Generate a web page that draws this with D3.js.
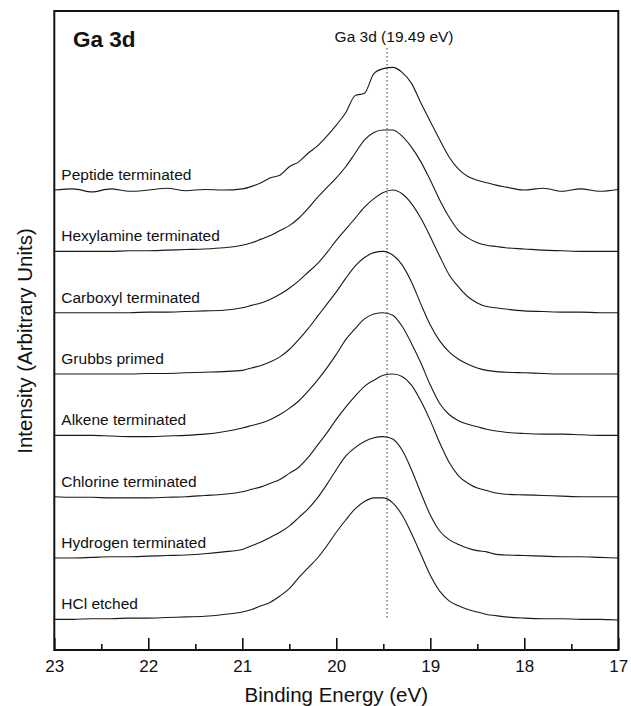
<!DOCTYPE html>
<html>
<head>
<meta charset="utf-8">
<script src="https://cdn.jsdelivr.net/npm/d3@7"></script>
<style>
body { margin: 0; background: #fff; }
svg text { font-family: "Liberation Sans", Arial, Helvetica, sans-serif; fill: #111; }
</style>
</head>
<body>
<div id="chart"></div>
<script>
var energies = [23.0, 22.8, 22.6, 22.4, 22.2, 22.0, 21.8, 21.6, 21.4, 21.2,
	21.0, 20.9, 20.8, 20.7, 20.6, 20.5, 20.4, 20.3, 20.2, 20.1, 20.0, 19.9, 19.8, 19.7, 19.6,
	19.5, 19.4, 19.3, 19.2, 19.1, 19.0, 18.9, 18.8, 18.7, 18.6, 18.5, 18.4, 18.3, 18.2,
	18.0, 17.8, 17.6, 17.4, 17.2, 17.0];

var hclEtched = [0.00, 0.00, 0.005, 0.005, 0.01, 0.01, 0.015, 0.02, 0.025, 0.04,
	0.06, 0.08, 0.11, 0.14, 0.19, 0.25, 0.34, 0.42, 0.50, 0.60, 0.71, 0.81, 0.90, 0.96, 0.99,
	0.99, 0.95, 0.85, 0.70, 0.53, 0.36, 0.23, 0.15, 0.11, 0.08, 0.06, 0.04, 0.03, 0.02,
	0.01, 0.005, 0.005, 0.0, 0.0, -0.005];
var hydrogen = [0.00, 0.00, 0.005, 0.01, 0.01, 0.015, 0.02, 0.025, 0.035, 0.05,
	0.07, 0.10, 0.13, 0.17, 0.21, 0.26, 0.33, 0.40, 0.49, 0.60, 0.72, 0.83, 0.90, 0.95, 0.98,
	0.99, 0.97, 0.88, 0.72, 0.53, 0.35, 0.22, 0.15, 0.11, 0.08, 0.06, 0.05, 0.03, 0.025,
	0.02, 0.015, 0.01, 0.01, 0.005, 0.0];
var chlorine = [0.00, -0.005, -0.005, -0.01, -0.01, -0.01, -0.005, 0.0, 0.01, 0.02,
	0.04, 0.06, 0.08, 0.11, 0.14, 0.19, 0.24, 0.32, 0.42, 0.52, 0.63, 0.73, 0.82, 0.90, 0.95,
	0.99, 1.00, 0.98, 0.91, 0.78, 0.62, 0.44, 0.28, 0.17, 0.11, 0.07, 0.05, 0.03, 0.02,
	0.015, 0.01, 0.005, 0.0, 0.0, 0.0];
var alkene = [0.00, 0.00, 0.00, -0.005, -0.01, -0.01, -0.005, 0.0, 0.01, 0.03,
	0.06, 0.08, 0.10, 0.13, 0.17, 0.22, 0.28, 0.36, 0.45, 0.55, 0.66, 0.78, 0.87, 0.95, 0.99,
	1.00, 0.98, 0.89, 0.75, 0.59, 0.41, 0.26, 0.17, 0.12, 0.09, 0.07, 0.05, 0.035, 0.025,
	0.015, 0.01, 0.01, 0.005, 0.0, 0.0];
var grubbs = [0.00, 0.00, 0.00, 0.00, 0.00, 0.005, 0.005, 0.01, 0.015, 0.02,
	0.03, 0.05, 0.07, 0.10, 0.14, 0.20, 0.28, 0.37, 0.47, 0.57, 0.67, 0.78, 0.88, 0.95, 0.99,
	1.00, 0.97, 0.89, 0.75, 0.57, 0.40, 0.27, 0.18, 0.12, 0.08, 0.05, 0.03, 0.02, 0.015,
	0.01, 0.005, 0.0, 0.0, 0.0, 0.0];
var carboxyl = [0.00, 0.00, 0.00, 0.00, 0.00, 0.005, 0.005, 0.01, 0.015, 0.02,
	0.04, 0.06, 0.08, 0.11, 0.15, 0.20, 0.26, 0.33, 0.40, 0.49, 0.59, 0.68, 0.77, 0.86, 0.93,
	0.98, 1.00, 0.97, 0.89, 0.77, 0.62, 0.46, 0.31, 0.21, 0.13, 0.08, 0.05, 0.04, 0.03,
	0.015, 0.01, 0.005, 0.005, 0.0, 0.0];
var hexylamine = [0.00, 0.00, 0.00, 0.00, 0.005, 0.005, 0.01, 0.015, 0.02, 0.03,
	0.05, 0.07, 0.10, 0.13, 0.17, 0.21, 0.27, 0.35, 0.44, 0.52, 0.60, 0.69, 0.80, 0.91, 0.97,
	0.99, 0.99, 0.94, 0.85, 0.73, 0.58, 0.42, 0.28, 0.17, 0.11, 0.07, 0.05, 0.04, 0.03,
	0.02, 0.01, 0.005, 0.0, 0.0, 0.0];
var peptide = [0.00, 0.01, -0.015, 0.01, -0.01, 0.0, 0.015, -0.005, 0.005, 0.0,
	0.01, 0.03, 0.06, 0.10, 0.12, 0.19, 0.23, 0.30, 0.36, 0.44, 0.53, 0.63, 0.77, 0.79, 0.95,
	0.99, 1.00, 0.96, 0.87, 0.71, 0.56, 0.41, 0.27, 0.17, 0.11, 0.08, 0.06, 0.04, 0.025,
	0.0, 0.015, -0.01, 0.01, -0.01, 0.005];

var sampleNames = ["HCl etched", "Hydrogen terminated", "Chlorine terminated", "Alkene terminated",
	"Grubbs primed", "Carboxyl terminated", "Hexylamine terminated", "Peptide terminated"];
var sampleSpectra = [hclEtched, hydrogen, chlorine, alkene, grubbs, carboxyl, hexylamine, peptide];
var stackOffsets = [0, 0.5, 1.0, 1.5, 2.0, 2.5, 3.0, 3.5];

var majorTicks = [23, 22, 21, 20, 19, 18, 17];
var minorTicks = [22.5, 21.5, 20.5, 19.5, 18.5, 17.5];
var refEnergy = 19.46;
var refLabel = "Ga 3d (19.49 eV)";

var svgwidth = 631, svgheight = 706;
var plotL = 54.3, plotR = 618.3, plotT = 11, plotB = 650;

var svg = d3.select("#chart")
	.append("svg")
	.attr("width", svgwidth)
	.attr("height", svgheight);

var x = d3.scaleLinear().domain([23, 17]).range([plotL, plotR]);
var y = d3.scaleLinear().domain([-0.25, 4.96]).range([plotB, plotT]);

var line = d3.line()
	.curve(d3.curveMonotoneX)
	.x(function(d){ return x(d[0]); })
	.y(function(d){ return y(d[1]); });

// reference line for the Ga 3d peak
svg.append("line")
	.attr("x1", x(refEnergy))
	.attr("x2", x(refEnergy))
	.attr("y1", 48)
	.attr("y2", y(0))
	.attr("stroke", "#333")
	.attr("stroke-width", 1)
	.attr("stroke-dasharray", "1.5,2.5");

svg.append("text")
	.attr("x", x(refEnergy) + 7)
	.attr("y", 41.5)
	.attr("text-anchor", "middle")
	.attr("font-size", "15.5px")
	.text(refLabel);

var traces = svg.append("g");
sampleSpectra.forEach(function(vals, i){
	var pts = energies.map(function(e, j){ return [e, vals[j] + stackOffsets[i]]; });
	traces.append("path")
		.attr("d", line(pts))
		.attr("fill", "none")
		.attr("stroke", "#1a1a1a")
		.attr("stroke-width", 1.1)
		.attr("stroke-linejoin", "round");
	traces.append("text")
		.attr("x", plotL + 7)
		.attr("y", y(stackOffsets[i]) - 10)
		.attr("font-size", "15.5px")
		.text(sampleNames[i]);
});

var xAxis = svg.append("g")
	.attr("transform", "translate(0," + plotB + ")")
	.call(d3.axisBottom(x).tickValues(majorTicks).tickSize(-12).tickPadding(10).tickFormat(d3.format("d")));
xAxis.select(".domain").remove();
xAxis.selectAll(".tick line").attr("stroke", "#111").attr("stroke-width", 1.6);
xAxis.selectAll(".tick text")
	.attr("font-size", "17px")
	.attr("font-family", "Liberation Sans, Arial, sans-serif")
	.attr("fill", "#111");

var xMinor = svg.append("g")
	.attr("transform", "translate(0," + plotB + ")")
	.call(d3.axisBottom(x).tickValues(minorTicks).tickSize(-6).tickFormat(""));
xMinor.select(".domain").remove();
xMinor.selectAll(".tick line").attr("stroke", "#111").attr("stroke-width", 1.6);

svg.append("rect")
	.attr("x", plotL)
	.attr("y", plotT)
	.attr("width", plotR - plotL)
	.attr("height", plotB - plotT)
	.attr("fill", "none")
	.attr("stroke", "#111")
	.attr("stroke-width", 2);

svg.append("text")
	.attr("x", 73)
	.attr("y", 47)
	.attr("font-size", "22.5px")
	.attr("font-weight", "bold")
	.text("Ga 3d");

svg.append("text")
	.attr("x", (plotL + plotR) / 2)
	.attr("y", 702)
	.attr("text-anchor", "middle")
	.attr("font-size", "20.5px")
	.text("Binding Energy (eV)");

svg.append("text")
	.attr("transform", "translate(31.5," + 341 + ") rotate(-90)")
	.attr("text-anchor", "middle")
	.attr("font-size", "20.5px")
	.text("Intensity (Arbitrary Units)");
</script>
</body>
</html>
